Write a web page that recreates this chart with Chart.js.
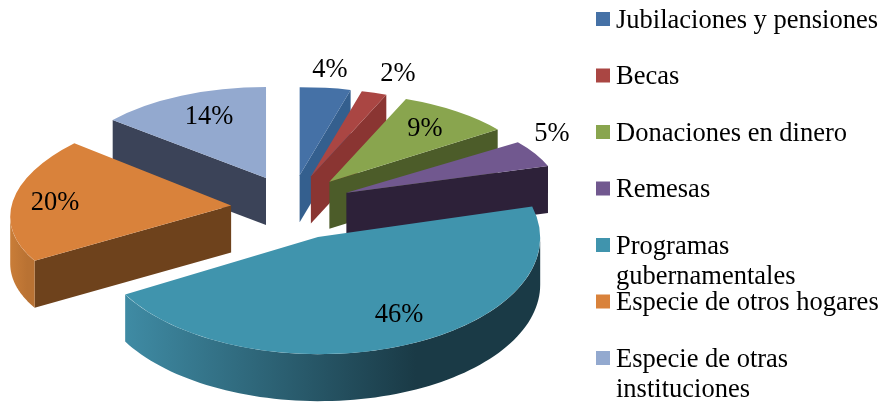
<!DOCTYPE html>
<html lang="es">
<head>
<meta charset="utf-8">
<title>Transferencias</title>
<style>
  html, body { margin: 0; padding: 0; background: #fff; }
  canvas { display: block; }
</style>
<script src="https://cdn.jsdelivr.net/npm/chart.js@4"></script>
</head>
<body>
<canvas id="myChart" width="885" height="402"></canvas>
<script>
'use strict';
// chart data
const categories = ['Jubilaciones y pensiones', 'Becas', 'Donaciones en dinero', 'Remesas', 'Programas gubernamentales', 'Especie de otros hogares', 'Especie de otras instituciones'];
const shares = [4, 2, 9, 5, 46, 20, 14];
const legendLines = [['Jubilaciones y pensiones'], ['Becas'], ['Donaciones en dinero'], ['Remesas'], ['Programas', 'gubernamentales'], ['Especie de otros hogares'], ['Especie de otras', 'instituciones']];

// colours for the top, the cut faces and the curved rim of each slice
const topColors = ['#4571a6', '#aa4643', '#89a54e', '#71588f', '#4094ad', '#d9823b', '#93a9cf'];
const faceColors = ['#345f8e', '#8a3532', '#4c5c29', '#2d2139', '#1a3a46', '#6e421c', '#3b4358'];
const rimColors = [
  ['#345f8e', '#345f8e'], ['#8a3532', '#8a3532'], ['#4c5c29', '#4c5c29'], ['#2d2139', '#2d2139'],
  ['#3f8ba4', '#1a3a46'], ['#c97d38', '#b97233'], ['#3b4358', '#3b4358']
];

// layout of the tilted pie: slices further back come out smaller, and the
// shear terms fake the perspective on the big front slices
const explodeX = 61;
const explodeY = 32.6;
const thickness = 47;
const sliceRx = [205, 205, 208, 212, 222, 220, 199];
const sliceRy = [88, 88, 89, 86, 117, 100, 91];
const sliceShearX = [0, 0, 0, 0, -10, -20, 0];
const sliceShearY = [0, 0, 0, 0, 6, -2, 0];
const drawOrder = [6, 0, 1, 2, 3, 5, 4];
const labelSpots = [[330, 70], [398, 74], [425, 129], [552, 134], [399, 315], [55, 203], [209, 117]];
const legendLayout = { boxX: 596, textX: 616, firstY: 19, rowGap: 56.5, box: 14, lineGap: 30.5, textDrop: 2 };
const textFont = '26.5px "Liberation Serif"';

function sliceGeometry(arc, i) {
  const mid = (arc.startAngle + arc.endAngle) / 2;
  return {
    x: arc.x + explodeX * Math.cos(mid),
    y: arc.y + explodeY * Math.sin(mid),
    rx: sliceRx[i],
    ry: sliceRy[i],
    sx: sliceShearX[i],
    sy: sliceShearY[i]
  };
}

function rimPoint(g, angle, drop) {
  return {
    x: g.x + g.rx * Math.cos(angle) + g.sx * Math.sin(angle),
    y: g.y + g.ry * Math.sin(angle) + g.sy * Math.cos(angle) + drop
  };
}

function drawCutFace(ctx, g, angle, color) {
  const p = rimPoint(g, angle, 0);
  ctx.beginPath();
  ctx.moveTo(g.x, g.y);
  ctx.lineTo(p.x, p.y);
  ctx.lineTo(p.x, p.y + thickness);
  ctx.lineTo(g.x, g.y + thickness);
  ctx.closePath();
  ctx.fillStyle = color;
  ctx.fill();
}

function drawRim(ctx, g, start, end, shades) {
  // the rim shows between the two points where the outline runs straight down
  const rightEdge = Math.atan2(g.sx, g.rx);
  const from = Math.max(start, rightEdge);
  const to = Math.min(end, rightEdge + Math.PI);
  if (from >= to) {
    return;
  }
  const grad = ctx.createLinearGradient(rimPoint(g, to, 0).x, 0, rimPoint(g, from, 0).x, 0);
  grad.addColorStop(0, shades[0]);
  grad.addColorStop(0.7, shades[1]);
  grad.addColorStop(1, shades[1]);
  const steps = 80;
  ctx.beginPath();
  for (let n = 0; n <= steps; n++) {
    const p = rimPoint(g, from + (to - from) * n / steps, 0);
    ctx.lineTo(p.x, p.y);
  }
  for (let n = steps; n >= 0; n--) {
    const p = rimPoint(g, from + (to - from) * n / steps, thickness);
    ctx.lineTo(p.x, p.y);
  }
  ctx.closePath();
  ctx.fillStyle = grad;
  ctx.fill();
}

// replaces the flat pie with the exploded, extruded one
const tiltedPie = {
  id: 'tiltedPie',
  beforeDatasetsDraw(chart) {
    const ctx = chart.ctx;
    const arcs = chart.getDatasetMeta(0).data;
    for (const i of drawOrder) {
      const arc = arcs[i];
      const g = sliceGeometry(arc, i);
      const r = arc.outerRadius;
      // cut faces only show when they look towards the front
      if (Math.sin(arc.startAngle + Math.PI / 2) < 0) {
        drawCutFace(ctx, g, arc.startAngle, faceColors[i]);
      }
      if (Math.sin(arc.endAngle + Math.PI / 2) > 0) {
        drawCutFace(ctx, g, arc.endAngle, faceColors[i]);
      }
      drawRim(ctx, g, arc.startAngle, arc.endAngle, rimColors[i]);
      ctx.save();
      ctx.transform(g.rx / r, g.sy / r, g.sx / r, g.ry / r, g.x, g.y);
      ctx.translate(-arc.x, -arc.y);
      arc.draw(ctx);
      ctx.restore();
    }
    return false;
  },
  afterDraw(chart) {
    const ctx = chart.ctx;
    ctx.save();
    ctx.font = textFont;
    ctx.fillStyle = '#000';
    ctx.textAlign = 'center';
    ctx.textBaseline = 'middle';
    shares.forEach((v, i) => {
      ctx.fillText(v + '%', labelSpots[i][0], labelSpots[i][1]);
    });
    ctx.textAlign = 'left';
    legendLines.forEach((lines, i) => {
      const y = legendLayout.firstY + legendLayout.rowGap * i;
      ctx.fillStyle = topColors[i];
      ctx.fillRect(legendLayout.boxX, y - legendLayout.box / 2, legendLayout.box, legendLayout.box);
      ctx.fillStyle = '#000';
      lines.forEach((line, n) => {
        ctx.fillText(line, legendLayout.textX, y + legendLayout.textDrop + n * legendLayout.lineGap);
      });
    });
    ctx.restore();
  }
};

new Chart(document.getElementById('myChart'), {
  type: 'pie',
  data: {
    labels: categories,
    datasets: [{
      data: shares,
      backgroundColor: topColors,
      borderWidth: 0
    }]
  },
  options: {
    responsive: false,
    animation: false,
    layout: { padding: { top: 13, right: 301 } },
    plugins: {
      legend: { display: false },
      tooltip: { enabled: false }
    }
  },
  plugins: [tiltedPie]
});
</script>
</body>
</html>
